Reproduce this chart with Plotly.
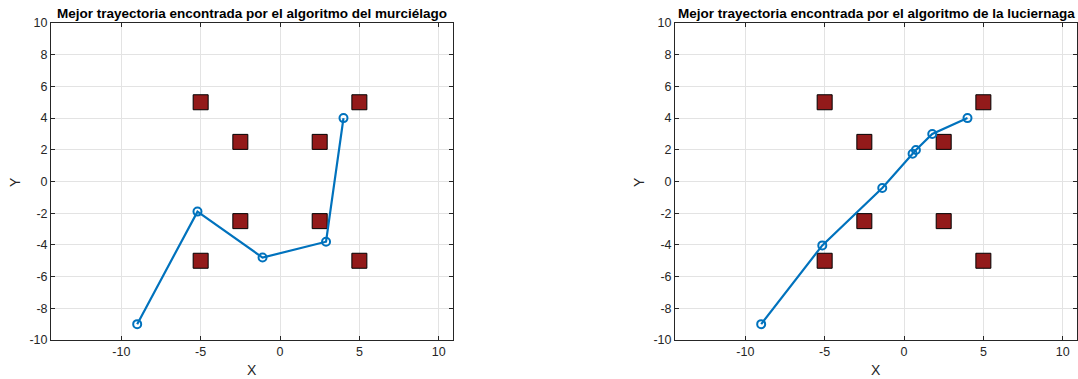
import plotly.graph_objects as go

# Data
obst_x = [-5, 5, -2.5, 2.5, -2.5, 2.5, -5, 5]
obst_y = [5, 5, 2.5, 2.5, -2.5, -2.5, -5, -5]

bat_x = [-9, -5.2, -1.1, 2.9, 4.0]
bat_y = [-9, -1.9, -4.8, -3.8, 4.0]

fly_x = [-9, -5.15, -1.37, 0.54, 0.75, 1.78, 4.0]
fly_y = [-9, -4.03, -0.41, 1.75, 1.99, 3.0, 4.0]

titles = ["Mejor trayectoria encontrada por el algoritmo del murciélago",
          "Mejor trayectoria encontrada por el algoritmo de la luciernaga"]
x_ticks = [-10, -5, 0, 5, 10]
y_ticks = [-10, -8, -6, -4, -2, 0, 2, 4, 6, 8, 10]
x_labels = [str(v) for v in x_ticks]
y_labels = [str(v) for v in y_ticks]

W, H = 1078, 379
fig = go.Figure()

paths = [(bat_x, bat_y), (fly_x, fly_y)]
x_px = [(51, 453), (675, 1077)]
y_top, y_bot = 23, 340
font = "Liberation Sans, Arial, sans-serif"
tc = "#262626"

for i, (px, py) in enumerate(paths):
    xa = "x" if i == 0 else "x2"
    ya = "y" if i == 0 else "y2"
    fig.add_trace(go.Scatter(x=obst_x, y=obst_y, mode="markers", xaxis=xa, yaxis=ya,
                             marker=dict(symbol="square", size=15, color="#931a1a",
                                         line=dict(color="black", width=1)),
                             showlegend=False, hoverinfo="skip"))
    fig.add_trace(go.Scatter(x=px, y=py, mode="lines+markers", xaxis=xa, yaxis=ya,
                             line=dict(color="#0072BD", width=2.2),
                             marker=dict(symbol="circle-open", size=8,
                                         color="#0072BD", line=dict(width=2)),
                             showlegend=False))
    x0, x1 = x_px[i]
    axcommon = dict(showgrid=True, gridcolor="#e3e3e3", gridwidth=1,
                    zeroline=False, showline=True, linecolor=tc, linewidth=1,
                    mirror="ticks", ticks="inside", ticklen=4, tickcolor=tc,
                    automargin=False,
                    tickfont=dict(family=font, size=12.5, color=tc))
    xkey = "xaxis" if i == 0 else "xaxis2"
    ykey = "yaxis" if i == 0 else "yaxis2"
    fig.update_layout(**{
        xkey: dict(domain=[x0 / W, x1 / W], range=[-14.43, 10.9], tickvals=x_ticks,
                   ticktext=x_labels, anchor=ya, **axcommon),
        ykey: dict(domain=[(H - y_bot) / H, (H - y_top) / H], range=[-10, 10],
                   tickvals=y_ticks, ticktext=y_labels, anchor=xa, **axcommon),
    })
    cx = (x0 + x1) / 2 / W
    fig.add_annotation(text="<b>" + titles[i] + "</b>", xref="paper", yref="paper",
                       x=cx, y=(H - 13) / H, showarrow=False, xanchor="center",
                       yanchor="middle", font=dict(family=font, size=13.5, color="black"))
    fig.add_annotation(text="X", xref="paper", yref="paper", x=cx, y=(H - 370) / H,
                       showarrow=False, xanchor="center", yanchor="middle",
                       font=dict(family=font, size=14, color=tc))
    fig.add_annotation(text="Y", xref="paper", yref="paper", x=(x0 - 36) / W,
                       y=(H - 182) / H, showarrow=False, textangle=-90,
                       xanchor="center", yanchor="middle",
                       font=dict(family=font, size=14, color=tc))

fig.update_layout(width=W, height=H, autosize=False,
                  margin=dict(l=0, r=0, t=0, b=0, autoexpand=False),
                  paper_bgcolor="white", plot_bgcolor="white")

fig.write_html("out.html", config={"displayModeBar": False},
               post_script="document.body.style.margin='0';document.body.style.overflow='hidden';")
